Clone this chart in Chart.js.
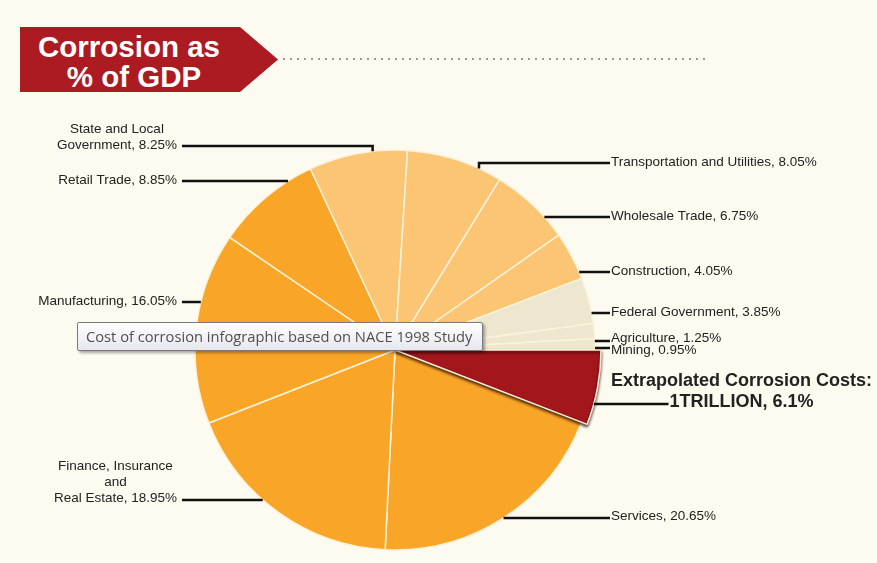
<!DOCTYPE html>
<html>
<head>
<meta charset="utf-8">
<script src="https://cdn.jsdelivr.net/npm/chart.js@4.4.1/dist/chart.umd.min.js"></script>
<style>
html,body{margin:0;padding:0;background:#FDFAEF;}
#wrap{position:relative;width:877px;height:563px;overflow:hidden;background:#FDFAEF;}
#c{position:absolute;left:0;top:0;}
#banner{position:absolute;left:20px;top:27px;width:258px;height:65px;background:#AB1B21;
  clip-path:polygon(0 0,220px 0,258px 50%,220px 100%,0 100%);}
#banner div{position:absolute;left:0;width:222px;text-align:center;color:#fff;
  font:bold 29.5px "Liberation Sans",Arial,sans-serif;line-height:30px;}
#dots{position:absolute;left:283px;top:58px;width:424px;height:2px;
  background-image:linear-gradient(to right,#9a9a9a 2px,transparent 2px);background-size:7px 2px;}
#tip{position:absolute;left:77px;top:322px;border:1px solid #7a7a7a;border-radius:2px;
  background:linear-gradient(#ffffff,#e6e7ef);box-shadow:2px 2px 3px rgba(0,0,0,0.35);
  font:14.7px "Open Sans",sans-serif;color:#505050;line-height:27px;padding-left:8px;box-sizing:border-box;width:406px;height:29px;white-space:nowrap;overflow:hidden;}
</style>
</head>
<body>
<div id="wrap">
  <canvas id="c" width="877" height="563"></canvas>
  <div id="banner"><div style="top:5px;left:-2px">Corrosion as</div><div style="top:35px;left:3px">% of GDP</div></div>
  <div id="dots"></div>
  <div id="tip">Cost of corrosion infographic based on NACE 1998 Study</div>
</div>
<script>
// ---- data ----
const categories = ['Extrapolated Corrosion Costs', 'Services', 'Finance, Insurance and Real Estate',
  'Manufacturing', 'Retail Trade', 'State and Local Government', 'Transportation and Utilities',
  'Wholesale Trade', 'Construction', 'Federal Government', 'Agriculture', 'Mining'];
const shares = [6.1, 20.65, 18.95, 16.05, 8.85, 8.25, 8.05, 6.75, 4.05, 3.85, 1.25, 0.95];
const labelText = [
  ['Extrapolated Corrosion Costs:', '1TRILLION, 6.1%'],
  ['Services, 20.65%'],
  ['Finance, Insurance', 'and', 'Real Estate, 18.95%'],
  ['Manufacturing, 16.05%'],
  ['Retail Trade, 8.85%'],
  ['State and Local', 'Government, 8.25%'],
  ['Transportation and Utilities, 8.05%'],
  ['Wholesale Trade, 6.75%'],
  ['Construction, 4.05%'],
  ['Federal Government, 3.85%'],
  ['Agriculture, 1.25%'],
  ['Mining, 0.95%']
];

// ---- styles / layout ----
const RED = '#A3161C', DARK = '#F9A628', LIGHT = '#FBC574', BEIGE = '#EEE7CF';
const sliceColors = [RED, DARK, DARK, DARK, DARK, LIGHT, LIGHT, LIGHT, LIGHT, BEIGE, BEIGE, BEIGE];
const labelSide = ['R','R','L','L','L','L','R','R','R','R','R','R'];
const labelTopY = [381, 516, 466, 301, 180, 129, 162, 216, 271, 312, 338, 350];
const leaderY   = [404, 518, 500, 302, 181, 146, 163, 217, 272, 313, 341, 348];
const elbowT    = [null, null, null, null, null, 0.65, 0.76, null, null, null, null, null];
const highlightIndex = 0;
const RIGHT_X = 611, LEFT_X = 177;

const labelPlugin = {
  id: 'leaderLabels',
  beforeDatasetsDraw(chart) {
    const meta = chart.getDatasetMeta(0);
    meta.data[highlightIndex].outerRadius = meta.controller.outerRadius + 6;
  },
  afterDatasetsDraw(chart) {
    const ctx = chart.ctx;
    const meta = chart.getDatasetMeta(0);
    ctx.save();
    ctx.shadowColor = 'rgba(30,0,0,0.75)';
    ctx.shadowBlur = 3; ctx.shadowOffsetX = 0; ctx.shadowOffsetY = 2;
    meta.data[highlightIndex].draw(ctx);
    ctx.restore();

    meta.data.forEach((arc, i) => {
      const lines = labelText[i];
      const bold = i === highlightIndex;
      ctx.save();
      ctx.font = bold ? 'bold 18px "Liberation Sans", Arial, sans-serif'
                      : '13.5px "Liberation Sans", Arial, sans-serif';
      const lh = bold ? 21 : 16;
      ctx.fillStyle = '#222222';
      ctx.textBaseline = 'middle';
      ctx.textAlign = 'center';
      const widths = lines.map(l => ctx.measureText(l).width);
      const bw = Math.max(...widths);
      const left = labelSide[i] === 'R' ? RIGHT_X : LEFT_X - bw;
      const tcx = left + bw / 2;
      lines.forEach((l, k) => ctx.fillText(l, tcx, labelTopY[i] + k * lh));
      const lastW = widths[widths.length - 1];
      const cx = arc.x, cy = arc.y, R = arc.outerRadius;
      const ly = leaderY[i];
      const textEdge = labelSide[i] === 'R' ? tcx - lastW / 2 - 1 : tcx + lastW / 2 + 5;
      ctx.strokeStyle = '#111';
      ctx.lineWidth = 2.5;
      ctx.lineJoin = 'miter';
      ctx.beginPath();
      if (elbowT[i] != null) {
        const a = arc.startAngle + elbowT[i] * (arc.endAngle - arc.startAngle);
        const px = cx + R * Math.cos(a), py = cy + R * Math.sin(a);
        ctx.moveTo(textEdge, ly); ctx.lineTo(px, ly); ctx.lineTo(px, py);
      } else {
        const dy = ly - cy;
        const dx = Math.sqrt(Math.max(R * R - dy * dy, 0));
        const px = labelSide[i] === 'R' ? cx + dx : cx - dx;
        ctx.moveTo(textEdge, ly); ctx.lineTo(px, ly);
      }
      ctx.stroke();
      ctx.restore();
    });
  }
};

new Chart(document.getElementById('c'), {
  type: 'pie',
  data: {
    labels: categories,
    datasets: [{
      data: shares,
      backgroundColor: sliceColors,
      borderColor: '#FBF2DA',
      borderWidth: 1.5
    }]
  },
  options: {
    responsive: false,
    animation: false,
    events: [],
    rotation: 90,
    radius: 200,
    layout: { padding: { left: 180, right: 267, top: 140, bottom: 3 } },
    plugins: { legend: { display: false }, tooltip: { enabled: false } }
  },
  plugins: [labelPlugin]
});
</script>
</body>
</html>
